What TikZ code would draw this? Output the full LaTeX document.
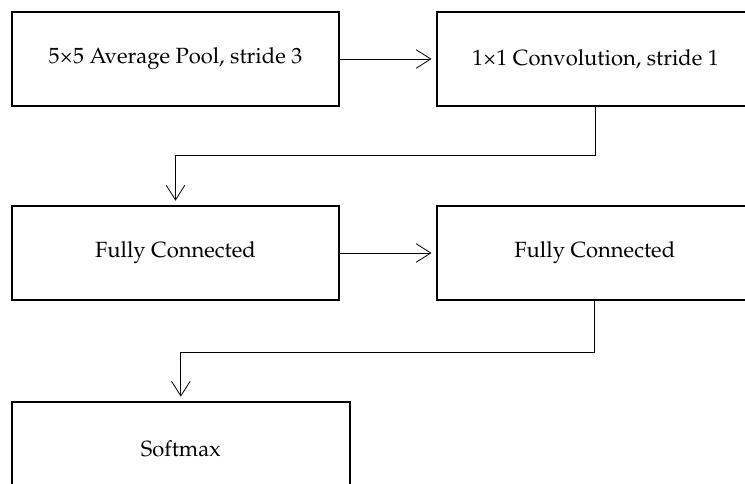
\documentclass[tikz,border=0pt]{standalone}
\usepackage[T1]{fontenc}
\usepackage{mathpazo}
\usetikzlibrary{arrows.meta,positioning}

\begin{document}
\begin{tikzpicture}[
x=0.75pt, y=0.75pt,
node distance=75pt and 73.5pt,
   layer/.style = {rectangle, draw, line width=1.5pt,% boxes of the network
                   minimum width=245pt, minimum height=70.5pt,
                   font=\fontsize{16.5}{20}\selectfont, outer sep=0pt},
    flow/.style = {line width=0.6pt,% connectors between boxes
                   -{Straight Barb[length=11pt,width=14pt]}, shorten >=4pt},
                    ]
\useasboundingbox (-175.5,59) rectangle (569.5,-425);
\node[layer] (pool) at (0,0) {5\texttimes5 Average Pool, stride 3};
\node[layer, minimum width=238pt, right=of pool] (conv) {1\texttimes1 Convolution, stride 1};
\node[layer, below=of pool] (fc1) {Fully Connected};
\node[layer, minimum width=237pt, right=of fc1] (fc2) {Fully Connected};
\node[layer, minimum width=253pt, below=76.5pt of fc1.south west, anchor=north west] (soft) {Softmax};
\draw[flow] (pool) -- (conv);
\draw[flow] (conv.south) -- ++(0,-49) -| (fc1.north);
\draw[flow] (fc1) -- (fc2);
\draw[flow] (fc2.south) -- ++(0,-52) -| (soft.north);
\end{tikzpicture}
\end{document}
